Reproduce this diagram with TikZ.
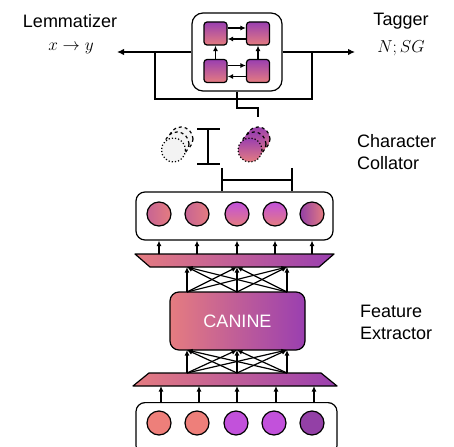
\documentclass[tikz,border=0pt]{standalone}
\usepackage{fontspec}
\setmainfont{Liberation Sans}
\usetikzlibrary{arrows.meta,calc}
\definecolor{pinkc}{HTML}{E57C80}
\definecolor{purc}{HTML}{9A3FB0}
\definecolor{salmonc}{HTML}{EE7F7A}
\definecolor{violetc}{HTML}{C251DB}
\definecolor{plumc}{HTML}{9340A6}
\definecolor{ghost}{HTML}{F3F3F3}
\tikzset{
  ln/.style={line width=1.2pt, black},
  arr/.style={ln, -{Latex[length=5.5pt,width=5pt]}},
  bigarr/.style={ln, -{Latex[length=7pt,width=6.5pt]}},
  panel/.style={draw, ln, fill=white, rounded corners=9pt, inner sep=0pt},
  sq/.style={draw, ln, rounded corners=3pt, top color=purc, bottom color=pinkc, minimum size=23pt, inner sep=0pt},
  dot/.style={circle, draw, ln, minimum size=24pt, inner sep=0pt},
  lbl/.style={font=\fontsize{18}{22}\selectfont, inner sep=0pt},
  mth/.style={font=\fontsize{17}{20}\selectfont, inner sep=0pt},
}
\begin{document}
\begin{tikzpicture}[x=1pt,y=-1pt]
\useasboundingbox (0,0) rectangle (454,446);

% ---------- task heads ----------
\node[panel, minimum width=90pt, minimum height=78pt, rounded corners=11pt] (mod) at (237,52) {};
\node[sq] (q1) at (215.5,33.5) {};
\node[sq] (q2) at (258,33.5) {};
\node[sq] (q3) at (215.5,71) {};
\node[sq] (q4) at (258,71) {};
\draw[arr] ([yshift=5.5pt]q1.east) -- ([yshift=5.5pt]q2.west);
\draw[arr] ([yshift=-5.5pt]q2.west) -- ([yshift=-5.5pt]q1.east);
\draw[arr] ([yshift=5.5pt]q3.east) -- ([yshift=5.5pt]q4.west);
\draw[arr] ([yshift=-5.5pt]q4.west) -- ([yshift=-5.5pt]q3.east);
\draw[arr] (q3.north) -- (q1.south);
\draw[arr] (q4.north) -- (q2.south);

\node[lbl] (lem) at (70,21) {Lemmatizer};
\node[mth] (lemex) at (71,48) {$x \rightarrow y$};
\node[lbl] (tag) at (401,21) {Tagger};
\node[mth] (tagex) at (401,48) {$N;SG$};

\coordinate (ltip) at (117,52);
\coordinate (rtip) at (355,52);
\coordinate (lj) at (155,52);
\coordinate (rj) at (312,52);
\coordinate (loop) at (237,99);
\coordinate (kink) at (237,108);
\coordinate (feed) at (258,117);

\draw[ln] (lj) |- (loop) -| (rj);
\draw[bigarr] (mod.west) -- (ltip);
\draw[bigarr] (mod.east) -- (rtip);
\draw[ln] (mod.south) -- (kink) -| (feed);

% ---------- character collator ----------
\node[dot, dashed, fill=ghost] (g3) at (181,139) {};
\node[dot, dashed, fill=ghost] (g2) at (177,144) {};
\node[dot, dotted, fill=ghost] (g1) at (173.5,150) {};
\node[dot, dashed, top color=purc, bottom color=pinkc] (c3) at (258,139) {};
\node[dot, dashed, top color=purc, bottom color=pinkc] (c2) at (254,144) {};
\node[dot, dotted, top color=purc, bottom color=pinkc] (c1) at (250,150) {};

\coordinate (it) at (208,129);
\coordinate (ib) at (208,164);
\draw[ln] (it) -- (ib);
\draw[ln] ([xshift=-11pt]it) -- ([xshift=12pt]it);
\draw[ln] ([xshift=-11pt]ib) -- ([xshift=12pt]ib);

\node[lbl, align=left, anchor=west] (cc) at (357,152) {Character\\Collator};

% ---------- character row ----------
\node[panel, minimum width=197pt, minimum height=48pt] (row) at (234.5,216) {};
\coordinate (bl) at (222,168);
\coordinate (br) at (292,168);
\draw[ln] (bl) -- (bl |- row.north);
\draw[ln] (br) -- (br |- row.north);
\draw[ln] ($(bl)+(0,12)$) -- ($(br)+(0,12)$);

\node[dot, left color=pinkc!60!purc, right color=pinkc] (r1) at (159,214) {};
\node[dot, left color=pinkc!60!purc, right color=pinkc] (r2) at (197,214) {};
\node[dot, top color=violetc, bottom color=pinkc] (r3) at (237,214) {};
\node[dot, top color=violetc, bottom color=pinkc] (r4) at (275,214) {};
\node[dot, left color=plumc, right color=pinkc] (r5) at (312,214) {};

% ---------- upper projection ----------
\coordinate (ut1) at (135,254);
\coordinate (ut2) at (334,254);
\coordinate (ub2) at (319,267);
\coordinate (ub1) at (150,267);
\shade[left color=pinkc, right color=purc] (ut1) -- (ut2) -- (ub2) -- (ub1) -- cycle;
\draw[ln, line join=round] (ut1) -- (ut2) -- (ub2) -- (ub1) -- cycle;
\foreach \i in {1,...,5}
  \draw[arr] (r\i |- ut1) -- (r\i |- row.south);

% ---------- feature extractor ----------
\node[draw, ln, rounded corners=9pt, left color=pinkc, right color=purc,
      minimum width=135pt, minimum height=58pt, inner sep=0pt,
      font=\fontsize{18}{22}\selectfont, text=white] (canine) at (237.5,321) {CANINE};

\coordinate (lt1) at (149,373);
\coordinate (lt2) at (321,373);
\coordinate (lb2) at (337,386);
\coordinate (lb1) at (133,386);
\shade[left color=pinkc, right color=purc] (lt1) -- (lt2) -- (lb2) -- (lb1) -- cycle;
\draw[ln, line join=round] (lt1) -- (lt2) -- (lb2) -- (lb1) -- cycle;

\foreach \a/\x in {1/187,2/237,3/287} {
  \coordinate (ct\a) at (\x,292);
  \coordinate (cb\a) at (\x,350);
  \coordinate (up\a) at (\x,267);
  \coordinate (lo\a) at (\x,373);
}
\foreach \a in {1,2,3}
  \foreach \b in {1,2,3} {
    \draw[arr] (ct\a) -- (up\b);
    \draw[arr] (lo\a) -- (cb\b);
  }

\node[lbl, align=left, anchor=west] (fe) at (360,322) {Feature\\Extractor};

% ---------- input characters ----------
\node[panel, minimum width=201pt, minimum height=52pt, anchor=north] (inp) at (236.5,402) {};
\node[dot, fill=salmonc] (i1) at (159,423) {};
\node[dot, fill=salmonc] (i2) at (197,423) {};
\node[dot, fill=violetc] (i3) at (236,423) {};
\node[dot, fill=violetc] (i4) at (274,423) {};
\node[dot, fill=plumc] (i5) at (312,423) {};
\foreach \i/\x in {1/161,2/199,3/237,4/276,5/314}
  \draw[arr] (\x,402) -- (\x,386);
\end{tikzpicture}
\end{document}
